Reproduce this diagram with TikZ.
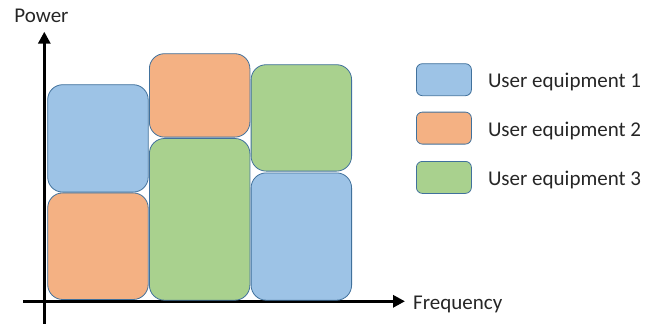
\documentclass[tikz,border=0pt]{standalone}
\usepackage{fontspec}
\setmainfont{Carlito}
\usetikzlibrary{arrows.meta,positioning}
\definecolor{ueblue}{HTML}{9DC3E6}
\definecolor{ueorange}{HTML}{F4B183}
\definecolor{uegreen}{HTML}{A9D18E}
\definecolor{ueedge}{HTML}{41719C}
\definecolor{uetext}{HTML}{262626}
\tikzset{
    % Resource block on the power/frequency grid
    block/.style={draw=ueedge,line width=0.8pt,rounded corners=15pt,inner sep=0pt,
        anchor=north west,minimum width=100.5pt},
    % Small legend swatch
    swatch/.style={draw=ueedge,line width=0.8pt,rounded corners=6pt,inner sep=0pt,
        anchor=north west,minimum width=55pt,minimum height=32pt},
    % Axis with arrow
    axis/.style={line width=3.2pt,-{Triangle[length=12pt,width=12pt]}},
    % Text labels
    label/.style={text=uetext,inner sep=0pt,font=\fontsize{21}{25}\selectfont}
}
\begin{document}
\begin{tikzpicture}[x=1pt,y=-1pt]
    \useasboundingbox (0,0) rectangle (667,324);

    % Axes
    \coordinate (ybot) at (44.3,324);
    \coordinate (ytop) at (44.3,31.7);
    \coordinate (xleft) at (23,301.3);
    \coordinate (xright) at (405,301.3);
    \draw[axis] (ybot) -- (ytop);
    \draw[axis] (xleft) -- (xright);
    \node[label,anchor=base] (power) at (41.5,23) {Power};
    \node[label,right=8pt of xright,yshift=-3pt] (freq) {Frequency};

    % First column
    \node[block,fill=ueblue,minimum height=107.4pt] (c1top) at (47.3,84.3) {};
    \node[block,fill=ueorange,minimum height=106.6pt,below=0pt of c1top] (c1bot) {};

    % Second column
    \node[block,fill=ueorange,minimum height=83.4pt] (c2top) at (149,53.3) {};
    \node[block,fill=uegreen,minimum height=161.7pt,below=0.6pt of c2top] (c2bot) {};

    % Third column
    \node[block,fill=uegreen,minimum height=106.4pt] (c3top) at (250.7,64.3) {};
    \node[block,fill=ueblue,minimum height=127.3pt,below=1pt of c3top] (c3bot) {};

    % Legend
    \node[swatch,fill=ueblue] (key1) at (416,63.3) {};
    \node[swatch,fill=ueorange] (key2) at (416,111.7) {};
    \node[swatch,fill=uegreen] (key3) at (416,161) {};
    \node[label,right=16pt of key1,yshift=-2.5pt] (txt1) {User equipment 1};
    \node[label,right=16pt of key2,yshift=-2.5pt] (txt2) {User equipment 2};
    \node[label,right=16pt of key3,yshift=-2.5pt] (txt3) {User equipment 3};
\end{tikzpicture}
\end{document}
